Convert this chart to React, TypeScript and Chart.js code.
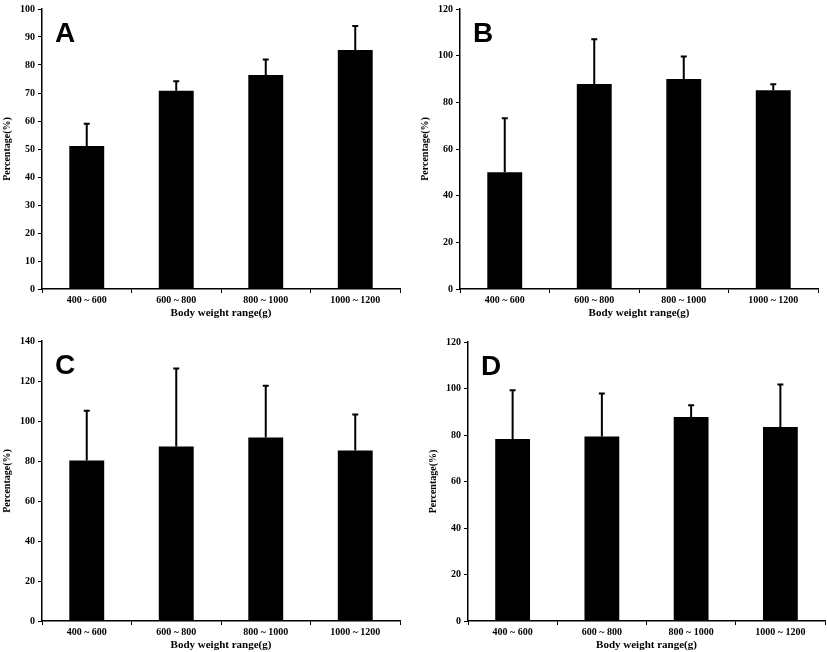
import React, { useEffect, useRef } from "react";
import { Chart, registerables } from "chart.js";

Chart.register(...registerables);

const categories = ["400 ~ 600", "600 ~ 800", "800 ~ 1000", "1000 ~ 1200"];

const meanA = [51.1, 70.8, 76.4, 85.4];
const errA = [7.9, 3.4, 5.6, 8.5];
const meanB = [50.0, 87.9, 90.0, 85.2];
const errB = [23.2, 19.1, 9.6, 2.5];
const meanC = [80.2, 87.3, 91.7, 85.3];
const errC = [24.9, 39.0, 25.9, 18.0];
const meanD = [78.3, 79.4, 87.7, 83.4];
const errD = [21.0, 18.5, 5.1, 18.3];

const yMaxA = 100, yStepA = 10;
const yMaxB = 120, yStepB = 20;
const yMaxC = 140, yStepC = 20;
const yMaxD = 120, yStepD = 20;

const xTitle = "Body weight range(g)";
const yTitle = "Percentage(%)";

const SERIF = "'Liberation Serif', 'Times New Roman', serif";

const errorBarPlugin = {
  id: "errorBars",
  afterDatasetsDraw(chart: any) {
    const ctx = chart.ctx;
    const yScale = chart.scales.y;
    chart.data.datasets.forEach((ds: any, i: number) => {
      const meta = chart.getDatasetMeta(i);
      meta.data.forEach((el: any, j: number) => {
        const v = ds.data[j];
        const e = ds.errors ? ds.errors[j] : 0;
        const yTop = yScale.getPixelForValue(v + e);
        const yBar = yScale.getPixelForValue(v);
        ctx.save();
        ctx.strokeStyle = "#000";
        ctx.lineWidth = 2;
        ctx.beginPath();
        ctx.moveTo(el.x, yBar);
        ctx.lineTo(el.x, yTop);
        ctx.moveTo(el.x - 3, yTop);
        ctx.lineTo(el.x + 3, yTop);
        ctx.stroke();
        ctx.restore();
      });
    });
  },
};

const letterPlugin = {
  id: "panelLetter",
  afterDraw(chart: any, _args: any, opts: any) {
    const ctx = chart.ctx;
    const area = chart.chartArea;
    ctx.save();
    ctx.fillStyle = "#000";
    ctx.font = "bold 28px 'Liberation Sans', Arial, sans-serif";
    ctx.textBaseline = "alphabetic";
    ctx.textAlign = "left";
    ctx.fillText(opts.text || "", area.left + 13, area.top + 33);
    ctx.restore();
  },
};

type PanelProps = {
  left: number;
  top: number;
  width: number;
  height: number;
  padRight: number;
  padBottom: number;
  letter: string;
  values: number[];
  errors: number[];
  yMax: number;
  yStep: number;
};

function Panel(p: PanelProps) {
  const ref = useRef<HTMLCanvasElement | null>(null);
  useEffect(() => {
    if (!ref.current) return;
    const chart = new Chart(ref.current, {
      type: "bar",
      data: {
        labels: categories,
        datasets: [
          {
            data: p.values,
            errors: p.errors,
            backgroundColor: "#000",
            borderWidth: 0,
            categoryPercentage: 1,
            barPercentage: 0.39,
          } as any,
        ],
      },
      options: {
        responsive: false,
        animation: false,
        events: [],
        layout: { padding: { left: 0, top: 6, right: p.padRight, bottom: p.padBottom } },
        plugins: {
          legend: { display: false },
          tooltip: { enabled: false },
          panelLetter: { text: p.letter },
        } as any,
        scales: {
          x: {
            afterFit: (s: any) => {
              s.height = 31;
            },
            grid: {
              offset: true,
              drawOnChartArea: false,
              drawTicks: true,
              tickLength: 4,
              color: "#000",
              lineWidth: 1,
            },
            border: { display: true, color: "#000", width: 1.5 },
            ticks: {
              color: "#000",
              padding: 1,
              maxRotation: 0,
              font: { family: SERIF, size: 10, weight: "bold" },
            },
            title: {
              display: true,
              text: xTitle,
              color: "#000",
              padding: { top: 0, bottom: 0 },
              font: { family: SERIF, size: 11, weight: "bold" },
            },
          },
          y: {
            min: 0,
            max: p.yMax,
            afterFit: (s: any) => {
              s.width = 42;
            },
            grid: {
              drawOnChartArea: false,
              drawTicks: true,
              tickLength: 4,
              color: "#000",
              lineWidth: 1,
            },
            border: { display: true, color: "#000", width: 1.5 },
            ticks: {
              stepSize: p.yStep,
              color: "#000",
              padding: 3,
              font: { family: SERIF, size: 10, weight: "bold" },
            },
            title: {
              display: true,
              text: yTitle,
              color: "#000",
              padding: { top: 1, bottom: 0 },
              font: { family: SERIF, size: 10, weight: "bold" },
            },
          },
        },
      } as any,
      plugins: [errorBarPlugin, letterPlugin],
    });
    return () => chart.destroy();
  }, []);
  return (
    <canvas
      ref={ref}
      width={p.width}
      height={p.height}
      style={{ position: "absolute", left: p.left, top: p.top, width: p.width, height: p.height }}
    />
  );
}

export default function App() {
  return (
    <div style={{ position: "absolute", left: 0, top: 0, width: 827, height: 652, background: "#fff", overflow: "hidden" }}>
      <Panel left={0} top={0} width={418} height={325} padRight={18} padBottom={5} letter="A" values={meanA} errors={errA} yMax={yMaxA} yStep={yStepA} />
      <Panel left={418} top={0} width={409} height={325} padRight={9} padBottom={5} letter="B" values={meanB} errors={errB} yMax={yMaxB} yStep={yStepB} />
      <Panel left={0} top={332} width={418} height={320} padRight={18} padBottom={0} letter="C" values={meanC} errors={errC} yMax={yMaxC} yStep={yStepC} />
      <Panel left={426} top={333} width={401} height={319} padRight={2} padBottom={0} letter="D" values={meanD} errors={errD} yMax={yMaxD} yStep={yStepD} />
    </div>
  );
}
